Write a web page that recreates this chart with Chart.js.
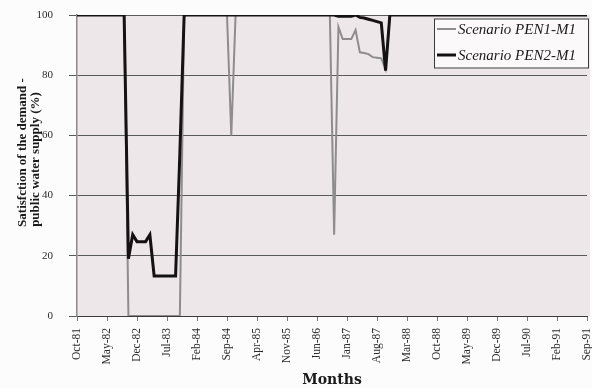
<!DOCTYPE html>
<html>
<head>
<meta charset="utf-8">
<script src="https://cdn.jsdelivr.net/npm/chart.js@4.4.1/dist/chart.umd.min.js"></script>
<style>
  html, body { margin: 0; padding: 0; background: #fdfcfc; }
  canvas { display: block; }
</style>
</head>
<body>
<canvas id="chart" width="592" height="388"></canvas>
<script>
// Monthly time axis, October 1981 to September 1991
const months = [
  'Oct-81','Nov-81','Dec-81',
  'Jan-82','Feb-82','Mar-82','Apr-82','May-82','Jun-82','Jul-82','Aug-82','Sep-82','Oct-82','Nov-82','Dec-82',
  'Jan-83','Feb-83','Mar-83','Apr-83','May-83','Jun-83','Jul-83','Aug-83','Sep-83','Oct-83','Nov-83','Dec-83',
  'Jan-84','Feb-84','Mar-84','Apr-84','May-84','Jun-84','Jul-84','Aug-84','Sep-84','Oct-84','Nov-84','Dec-84',
  'Jan-85','Feb-85','Mar-85','Apr-85','May-85','Jun-85','Jul-85','Aug-85','Sep-85','Oct-85','Nov-85','Dec-85',
  'Jan-86','Feb-86','Mar-86','Apr-86','May-86','Jun-86','Jul-86','Aug-86','Sep-86','Oct-86','Nov-86','Dec-86',
  'Jan-87','Feb-87','Mar-87','Apr-87','May-87','Jun-87','Jul-87','Aug-87','Sep-87','Oct-87','Nov-87','Dec-87',
  'Jan-88','Feb-88','Mar-88','Apr-88','May-88','Jun-88','Jul-88','Aug-88','Sep-88','Oct-88','Nov-88','Dec-88',
  'Jan-89','Feb-89','Mar-89','Apr-89','May-89','Jun-89','Jul-89','Aug-89','Sep-89','Oct-89','Nov-89','Dec-89',
  'Jan-90','Feb-90','Mar-90','Apr-90','May-90','Jun-90','Jul-90','Aug-90','Sep-90','Oct-90','Nov-90','Dec-90',
  'Jan-91','Feb-91','Mar-91','Apr-91','May-91','Jun-91','Jul-91','Aug-91','Sep-91'
];

// Labelled months on the x axis (every seventh month)
const tickLabels = ['Oct-81','May-82','Dec-82','Jul-83','Feb-84','Sep-84','Apr-85','Nov-85','Jun-86',
  'Jan-87','Aug-87','Mar-88','Oct-88','May-89','Dec-89','Jul-90','Feb-91','Sep-91'];

// Satisfaction of the public water supply demand (%), scenario PEN1-M1
const pen1 = [
  100,100,100,100,100,100,100,100,100,100,100,100,
  0,0,0,0,0,0,0,0,0,0,0,0,0,
  100,100,100,100,100,100,100,100,100,100,100,
  60,
  100,100,100,100,100,100,100,100,100,100,100,100,100,100,100,100,100,100,100,100,100,100,100,
  27,96,92,92,92,95,87.6,87.4,87,86,85.8,85.6,82,
  100,100,100,100,100,100,100,100,100,100,100,100,100,100,100,100,100,100,100,100,100,100,100,100,
  100,100,100,100,100,100,100,100,100,100,100,100,100,100,100,100,100,100,100,100,100,100,100
];

// Satisfaction of the public water supply demand (%), scenario PEN2-M1
const pen2 = [
  100,100,100,100,100,100,100,100,100,100,100,100,
  19,27,24.7,24.7,24.7,27,
  13.3,13.3,13.3,13.3,13.3,13.3,
  54,
  100,100,100,100,100,100,100,100,100,100,100,100,100,100,100,100,100,100,
  100,100,100,100,100,100,100,100,100,100,100,100,100,100,100,100,100,100,
  99.6,99.6,99.6,99.6,100,99.2,99,98.6,98.2,97.8,97.4,81.5,
  100,100,100,100,100,100,100,100,100,100,100,100,100,100,100,100,100,100,100,100,100,100,100,100,
  100,100,100,100,100,100,100,100,100,100,100,100,100,100,100,100,100,100,100,100,100,100,100
];

const seriesNames = ['Scenario PEN1-M1', 'Scenario PEN2-M1'];
const seriesColors = ['#8e8c8d', '#141212'];
const seriesWidths = [2, 3];
const yTitleLines = ['Satisfction of the demand -', 'public water supply (%)'];

const toPoints = arr => arr.map((v, i) => ({ x: i, y: v }));

// Shaded plotting area
const plotBackground = {
  id: 'plotBackground',
  beforeDraw(chart) {
    const { ctx, chartArea: { left, top, right, bottom } } = chart;
    ctx.save();
    ctx.fillStyle = '#eee7e9';
    ctx.fillRect(left, top, right - left + 3, bottom - top);
    ctx.restore();
  }
};

// Two-line rotated title of the value axis
const valueAxisTitle = {
  id: 'valueAxisTitle',
  afterDraw(chart) {
    const { ctx } = chart;
    ctx.save();
    ctx.font = 'bold 13px "Liberation Serif"';
    ctx.fillStyle = '#1a1a1a';
    ctx.textAlign = 'center';
    ctx.textBaseline = 'middle';
    const spots = [[22.5, 152.5], [35.5, 159.5]];
    yTitleLines.forEach((line, i) => {
      ctx.save();
      ctx.translate(spots[i][0], spots[i][1]);
      ctx.rotate(-Math.PI / 2);
      ctx.fillText(line, 0, 0);
      ctx.restore();
    });
    ctx.restore();
  }
};

// Boxed legend in the upper right corner of the plot
const boxedLegend = {
  id: 'boxedLegend',
  afterDraw(chart) {
    const { ctx, chartArea } = chart;
    const right = chartArea.right + 2;
    const boxW = 155, boxH = 50;
    const x = right - boxW, y = chartArea.top + 3.5;
    ctx.save();
    ctx.fillStyle = '#fbf9fa';
    ctx.fillRect(x, y, boxW, boxH);
    ctx.strokeStyle = '#3a3a3a';
    ctx.lineWidth = 1;
    ctx.strokeRect(x + 0.5, y + 0.5, boxW - 1, boxH - 1);
    ctx.font = 'italic 15px "Liberation Serif"';
    ctx.textBaseline = 'middle';
    ctx.fillStyle = '#1a1a1a';
    const rows = [y + 10.5, y + 36.5];
    seriesNames.forEach((name, i) => {
      ctx.beginPath();
      ctx.strokeStyle = seriesColors[i];
      ctx.lineWidth = seriesWidths[i];
      ctx.moveTo(x + 3, rows[i]);
      ctx.lineTo(x + 22, rows[i]);
      ctx.stroke();
      ctx.fillText(name, x + 24, rows[i] + 1);
    });
    ctx.restore();
  }
};

new Chart(document.getElementById('chart'), {
  type: 'line',
  data: {
    datasets: [
      {
        label: seriesNames[0],
        data: toPoints(pen1),
        borderColor: seriesColors[0],
        borderWidth: seriesWidths[0],
        pointRadius: 0,
        tension: 0,
        order: 1
      },
      {
        label: seriesNames[1],
        data: toPoints(pen2),
        borderColor: seriesColors[1],
        borderWidth: seriesWidths[1],
        pointRadius: 0,
        tension: 0,
        order: 0
      }
    ]
  },
  options: {
    responsive: false,
    animation: false,
    devicePixelRatio: 1,
    layout: { padding: { top: 15, right: 5, left: 0, bottom: 0 } },
    plugins: {
      legend: { display: false },
      tooltip: { enabled: false }
    },
    scales: {
      x: {
        type: 'linear',
        min: 0,
        max: months.length - 1,
        afterFit(scale) {
          scale.height = 72;
          scale.paddingLeft = 0;
          scale.paddingRight = 0;
        },
        afterBuildTicks(scale) {
          scale.ticks = tickLabels.map(l => ({ value: months.indexOf(l) }));
        },
        ticks: {
          autoSkip: false,
          minRotation: 90,
          maxRotation: 90,
          padding: 7,
          color: '#2a2a2a',
          font: { family: '"Liberation Serif"', size: 11.5 },
          callback: v => months[v]
        },
        grid: {
          drawOnChartArea: false,
          tickLength: 5,
          color: '#7a7a7a'
        },
        border: { display: true, color: '#3a3a3a', width: 1 },
        title: {
          display: true,
          text: 'Months',
          color: '#1a1a1a',
          font: { family: '"DejaVu Serif"', size: 14, weight: 'bold', lineHeight: 1 },
          padding: { top: 0, bottom: 1 }
        }
      },
      y: {
        min: 0,
        max: 100,
        afterFit(scale) {
          scale.width = 77;
          scale.paddingTop = 0;
          scale.paddingBottom = 0;
        },
        ticks: {
          stepSize: 20,
          padding: 16,
          color: '#2a2a2a',
          font: { family: '"Liberation Serif"', size: 11 }
        },
        grid: {
          color: '#5a5a5a',
          lineWidth: 1,
          tickLength: 8
        },
        border: { display: true, color: '#8a8a8a', width: 1.5 },
        title: { display: false }
      }
    }
  },
  plugins: [plotBackground, valueAxisTitle, boxedLegend]
});
</script>
</body>
</html>
